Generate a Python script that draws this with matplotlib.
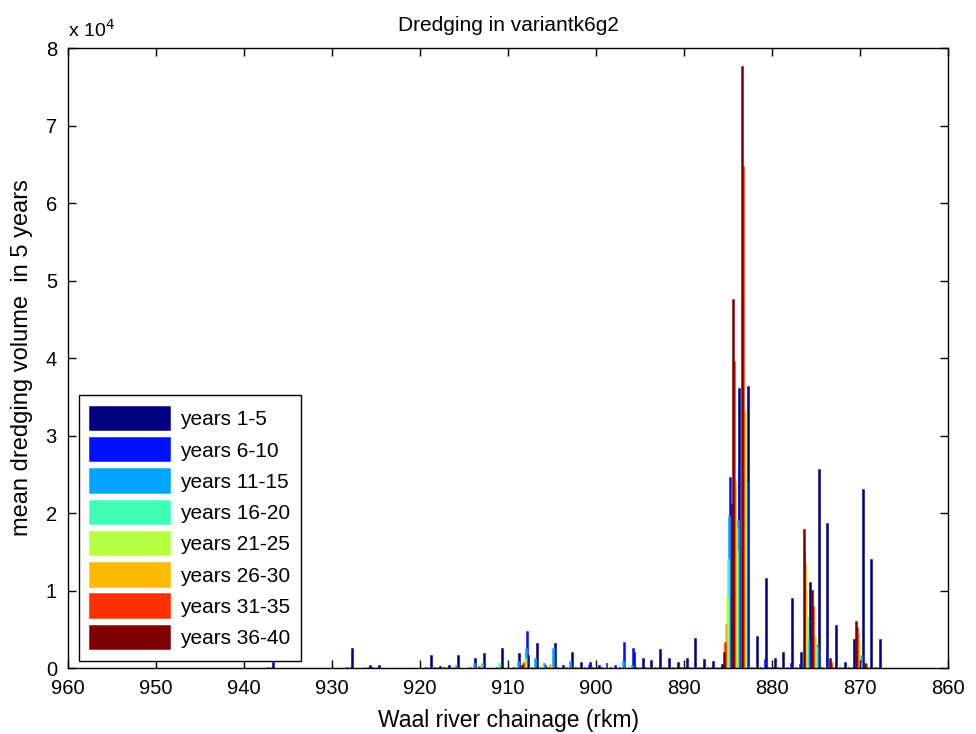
import numpy as np
import matplotlib
matplotlib.use('Agg')
import matplotlib.pyplot as plt

plt.rcParams['font.family'] = ['Liberation Sans', 'DejaVu Sans']

# river km of each dredging location (group centre)
rkm = [937, 928, 926, 925, 919, 918, 917, 916, 914, 913, 911, 909, 908, 907,
       906, 905, 904, 903, 902, 901, 900, 899, 898, 897, 896, 895, 894, 893,
       892, 891, 890, 889, 888, 887, 886, 885, 884, 883, 882, 881, 880, 879,
       878, 877, 876, 875, 874, 873, 872, 871, 870, 869, 868]

# mean dredging volume per 5 year period (m3), one list per period
y1_5 = [700, 2500, 200, 200, 1500, 150, 300, 1500, 1200, 1800, 2500, 1800, 1500, 3100,
        0, 3100, 300, 1900, 600, 600, 200, 0, 0, 0, 2000, 1200, 900, 2300,
        1200, 600, 1100, 3700, 1000, 800, 400, 21000, 36000, 36200, 4000, 11500, 1100, 2000,
        8900, 1900, 11000, 25500, 18600, 5400, 650, 3600, 23000, 14000, 3600]
y6_10 = [0, 0, 0, 0, 400, 0, 0, 0, 600, 0, 0, 0, 4600, 0,
         300, 0, 0, 0, 0, 200, 0, 600, 300, 3200, 2500, 0, 0, 0,
         0, 0, 0, 200, 0, 0, 0, 24500, 26000, 24000, 0, 1000, 0, 100,
         500, 400, 3000, 2000, 2000, 0, 0, 0, 100, 0, 0]
y11_15 = [0, 0, 0, 0, 0, 0, 0, 200, 500, 500, 0, 800, 2400, 1200,
          500, 2500, 0, 800, 0, 0, 0, 0, 0, 800, 300, 0, 0, 0,
          0, 0, 0, 0, 0, 0, 0, 19500, 19000, 24000, 0, 0, 0, 0,
          0, 0, 3800, 3000, 0, 0, 0, 0, 1500, 0, 0]
y16_20 = [0, 0, 0, 0, 0, 0, 0, 0, 0, 700, 500, 0, 1000, 0,
          0, 0, 0, 0, 0, 0, 0, 0, 0, 0, 0, 0, 0, 0,
          0, 0, 0, 0, 0, 0, 0, 14000, 15000, 24000, 0, 0, 0, 0,
          0, 0, 6400, 2600, 0, 0, 0, 0, 700, 0, 0]
y21_25 = [0, 0, 0, 0, 0, 0, 0, 0, 0, 0, 0, 0, 1200, 0,
          300, 0, 0, 0, 0, 0, 0, 0, 0, 0, 0, 0, 0, 0,
          0, 0, 0, 0, 0, 0, 0, 9000, 18000, 33000, 0, 0, 0, 0,
          0, 0, 10000, 4000, 0, 0, 0, 0, 3200, 0, 0]
y26_30 = [0, 0, 0, 0, 0, 0, 0, 0, 0, 0, 0, 0, 800, 0,
          0, 400, 0, 0, 0, 0, 0, 0, 0, 0, 0, 0, 0, 0,
          0, 0, 0, 0, 0, 0, 0, 5500, 24000, 33000, 0, 0, 0, 0,
          0, 0, 13300, 3800, 0, 300, 0, 0, 4400, 0, 0]
y31_35 = [0, 0, 0, 0, 0, 0, 0, 0, 0, 100, 0, 0, 500, 0,
          0, 0, 0, 0, 0, 0, 0, 0, 0, 0, 0, 0, 0, 0,
          0, 0, 0, 0, 0, 0, 0, 3200, 39500, 64700, 0, 0, 0, 0,
          0, 0, 15200, 7900, 0, 600, 0, 0, 5100, 350, 0]
y36_40 = [0, 0, 0, 0, 0, 0, 0, 0, 0, 0, 0, 0, 300, 0,
          0, 0, 0, 0, 0, 0, 0, 0, 0, 0, 0, 0, 0, 0,
          0, 0, 0, 0, 0, 0, 0, 2000, 47500, 77500, 0, 0, 0, 0,
          0, 0, 17800, 10000, 0, 1200, 0, 0, 5900, 500, 0]

series = [y1_5, y6_10, y11_15, y16_20, y21_25, y26_30, y31_35, y36_40]
labels = ['years 1-5', 'years 6-10', 'years 11-15', 'years 16-20',
          'years 21-25', 'years 26-30', 'years 31-35', 'years 36-40']
yticks = [0, 10000, 20000, 30000, 40000, 50000, 60000, 70000, 80000]
yticklabels = ['0', '1', '2', '3', '4', '5', '6', '7', '8']
xticks = list(range(960, 859, -10))

colors = plt.cm.jet(np.linspace(0, 1, 8))

fig = plt.figure(figsize=(9.76, 7.34), dpi=100)
ax = fig.add_axes([0.0697, 0.0899, 0.9016, 0.8447])

x = np.array(rkm, dtype=float)
w = 0.1
for i, (vals, lab) in enumerate(zip(series, labels)):
    off = (i - 3.5) * w
    ax.bar(x + off, vals, width=w, color=colors[i], edgecolor=colors[i],
           linewidth=1.1, label=lab, align='center')

ax.set_xlim(960, 860)
ax.set_ylim(0, 80000)
ax.set_xticks(xticks)
ax.set_yticks(yticks)
ax.set_yticklabels(yticklabels)
ax.tick_params(direction='in', top=True, right=True, length=6, width=1,
               labelsize=14.5, pad=8)
for s in ax.spines.values():
    s.set_linewidth(1)
    s.set_zorder(3)

ax.text(0.0, 1.012, r'x 10$^{4}$', transform=ax.transAxes, fontsize=14,
        ha='left', va='bottom')
ax.set_title('Dredging in variantk6g2', fontsize=15, pad=12)
ax.set_xlabel('Waal river chainage (rkm)', fontsize=16.5, labelpad=8)
ax.set_ylabel('mean dredging volume  in 5 years', fontsize=17, labelpad=9)

leg = ax.legend(loc='lower left', bbox_to_anchor=(0.012, 0.012), borderaxespad=0,
                fontsize=15, handlelength=3.85, handleheight=1.35, labelspacing=0.38,
                handletextpad=0.45, borderpad=0.55, fancybox=False, framealpha=1)
leg.get_frame().set_edgecolor('black')
leg.get_frame().set_linewidth(1)

fig.savefig('out.png', dpi=100)
